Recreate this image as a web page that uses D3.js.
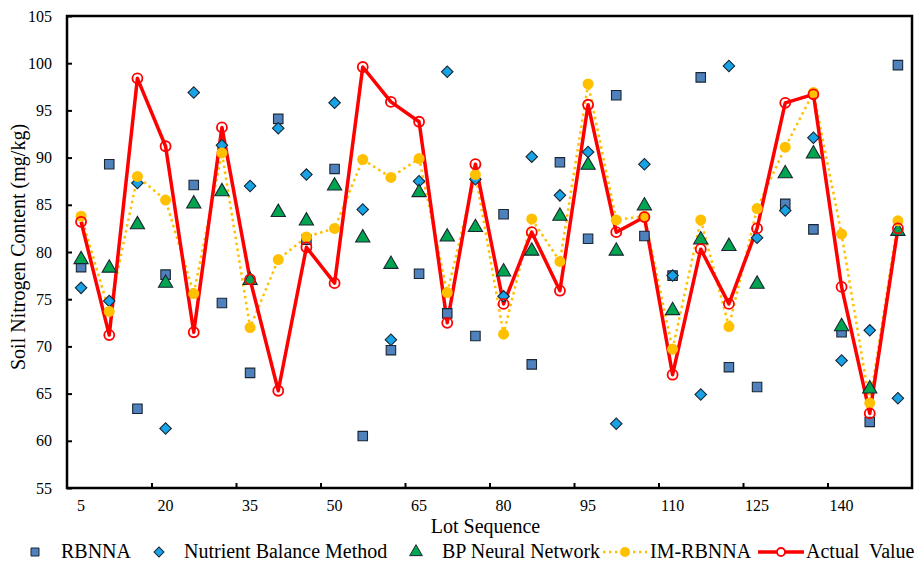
<!DOCTYPE html>
<html>
<head>
<meta charset="utf-8">
<script src="https://cdn.jsdelivr.net/npm/d3@7.9.0/dist/d3.min.js"></script>
<style>
  body { margin: 0; background: #fff; }
  svg, svg text { font-family: "Liberation Serif", "DejaVu Serif", serif; }
  svg { display: block; }
</style>
</head>
<body>
<svg id="chart" width="919" height="562"></svg>
<script>
const lots = [5, 10, 15, 20, 25, 30, 35, 40, 45, 50, 55, 60, 65, 70, 75,
  80, 85, 90, 95, 100, 105, 110, 115, 120, 125, 130, 135, 140, 145, 150];
const labeledLots = [5, 20, 35, 50, 65, 80, 95, 110, 125, 140];
const yTicks = [55, 60, 65, 70, 75, 80, 85, 90, 95, 100, 105];

const rbnna = [78.4, 89.3, 63.4, 77.6, 87.1, 74.6, 67.2, 94.1, 81.3, 88.8, 60.5, 69.6, 77.7, 73.5, 71.1,
  84.0, 68.1, 89.5, 81.4, 96.6, 81.7, 77.5, 98.5, 67.8, 65.7, 85.1, 82.4, 71.5, 62.0, 99.8];
const nutrient = [76.2, 74.8, 87.3, 61.3, 96.9, 91.3, 87.0, 93.1, 88.2, 95.8, 84.5, 70.7, 87.5, 99.1, 87.7,
  75.3, 90.1, 86.0, 90.6, 61.8, 89.3, 77.5, 64.9, 99.7, 81.5, 84.4, 92.1, 68.5, 71.7, 64.5];
const bpNet = [79.2, 78.3, 82.9, 76.7, 85.1, 86.4, 77.0, 84.2, 83.3, 87.0, 81.5, 78.7, 86.3, 81.6, 82.6,
  77.9, 80.1, 83.8, 89.2, 80.1, 84.9, 73.8, 81.3, 80.6, 76.6, 88.3, 90.4, 72.1, 65.5, 82.2];
const imRbnna = [83.8, 73.7, 88.0, 85.5, 75.6, 90.5, 72.0, 79.2, 81.6, 82.5, 89.8, 87.9, 89.9, 75.7, 88.2,
  71.3, 83.5, 79.0, 97.8, 83.4, 83.8, 69.7, 83.4, 72.1, 84.6, 91.1, 96.9, 81.9, 64.0, 83.3];
const actual = [83.2, 71.2, 98.4, 91.2, 71.5, 93.2, 77.1, 65.3, 80.5, 76.7, 99.6, 95.9, 93.8, 72.5, 89.3,
  74.5, 82.1, 75.9, 95.6, 82.1, 83.7, 67.0, 80.3, 74.5, 82.5, 95.8, 96.7, 76.3, 62.9, 82.5];

const plotLeft = 67, plotRight = 912, plotTop = 16, plotBottom = 488;
const serif = "Liberation Serif, DejaVu Serif, serif";
const svg = d3.select("#chart");

let x = d3.scaleBand().domain(lots).range([plotLeft, plotRight]);
let cx = (d) => x(d) + x.bandwidth() / 2;
let y = d3.scaleLinear().domain([55, 105]).range([plotBottom, plotTop]);
// boundary ticks every 3 categories
let xb = d3.scaleLinear().domain([0, lots.length]).range([plotLeft, plotRight]);

// x tick labels
svg.append("g")
  .attr("transform", `translate(0,${plotBottom})`)
  .attr("font-family", serif)
  .call(d3.axisBottom(x).tickValues(labeledLots).tickSize(0).tickPadding(12))
  .attr("font-family", serif)
  .call((g) => g.select(".domain").remove())
  .selectAll("text").attr("font-size", 16).attr("fill", "#000");

// x inner tick marks
svg.append("g")
  .attr("transform", `translate(0,${plotBottom})`)
  .call(d3.axisBottom(xb).tickValues([3, 6, 9, 12, 15, 18, 21, 24, 27]).tickSize(-5).tickFormat(""))
  .call((g) => g.select(".domain").remove())
  .selectAll("line").attr("stroke", "#000").attr("stroke-width", 2);

// y axis
svg.append("g")
  .attr("transform", `translate(${plotLeft},0)`)
  .call(d3.axisLeft(y).tickValues(yTicks).tickSize(-5).tickPadding(15))
  .attr("font-family", serif)
  .call((g) => g.select(".domain").remove())
  .call((g) => g.selectAll("line").attr("stroke", "#000").attr("stroke-width", 2))
  .selectAll("text").attr("font-size", 16).attr("fill", "#000");

// frame
svg.append("rect")
  .attr("x", plotLeft).attr("y", plotTop)
  .attr("width", plotRight - plotLeft).attr("height", plotBottom - plotTop)
  .attr("fill", "none").attr("stroke", "#000").attr("stroke-width", 2.5);

// axis titles
svg.append("text")
  .attr("x", (plotLeft + plotRight) / 2 - 4).attr("y", 533)
  .attr("text-anchor", "middle").attr("font-size", 20).attr("font-family", serif)
  .text("Lot Sequence");
svg.append("text")
  .attr("transform", "translate(25,247) rotate(-90)")
  .attr("text-anchor", "middle").attr("font-size", 20).attr("font-family", serif)
  .text("Soil Nitrogen Content (mg/kg)");

const plot = svg.append("g");

// lines
let line = (vals) => d3.line().x((d, i) => cx(lots[i])).y((d) => y(d))(vals);
plot.append("path").attr("d", line(imRbnna))
  .attr("fill", "none").attr("stroke", "#FFC000").attr("stroke-width", 2.5)
  .attr("stroke-dasharray", "2.5,3.5");
plot.append("path").attr("d", line(actual))
  .attr("fill", "none").attr("stroke", "#FF0000").attr("stroke-width", 3.5)
  .attr("stroke-linejoin", "round");

const squareSym = d3.symbol().type(d3.symbolSquare).size(90);
const diamondSym = d3.symbol().type(d3.symbolSquare).size(66);
const triSym = d3.symbol().type(d3.symbolTriangle).size(88);

function markers(vals, sym, fill, rot) {
  plot.append("g").selectAll("path").data(vals).join("path")
    .attr("d", sym)
    .attr("transform", (d, i) => `translate(${cx(lots[i])},${y(d)}) rotate(${rot})`)
    .attr("fill", fill).attr("stroke", "#1a2633").attr("stroke-width", 1.1);
}
markers(rbnna, squareSym, "#4F81BD", 0);
markers(nutrient, diamondSym, "#18A3E6", 45);
markers(bpNet, triSym, "#00A54F", 0);

plot.append("g").selectAll("circle").data(imRbnna).join("circle")
  .attr("cx", (d, i) => cx(lots[i])).attr("cy", (d) => y(d))
  .attr("r", 5.5).attr("fill", "#FFC000");
plot.append("g").selectAll("circle").data(actual).join("circle")
  .attr("cx", (d, i) => cx(lots[i])).attr("cy", (d) => y(d))
  .attr("r", 5).attr("fill", "none").attr("stroke", "#FF0000").attr("stroke-width", 1.8);

// legend
const legendY = 552;
const legend = svg.append("g").attr("font-size", 20).attr("font-family", serif);
const items = [
  { name: "RBNNA", kind: "square", mx: 35, tx: 61 },
  { name: "Nutrient Balance Method", kind: "diamond", mx: 159, tx: 184 },
  { name: "BP Neural Network", kind: "tri", mx: 416, tx: 442 },
  { name: "IM-RBNNA", kind: "dot", mx: 625, tx: 650 },
  { name: "Actual  Value", kind: "actual", mx: 781, tx: 806 },
];
items.forEach((it) => {
  if (it.kind === "square") {
    legend.append("path").attr("d", d3.symbol().type(d3.symbolSquare).size(64)())
      .attr("transform", `translate(${it.mx},${legendY})`)
      .attr("fill", "#4F81BD").attr("stroke", "#1a2633").attr("stroke-width", 1);
  } else if (it.kind === "diamond") {
    legend.append("path").attr("d", d3.symbol().type(d3.symbolSquare).size(50)())
      .attr("transform", `translate(${it.mx},${legendY}) rotate(45)`)
      .attr("fill", "#18A3E6").attr("stroke", "#1a2633").attr("stroke-width", 1);
  } else if (it.kind === "tri") {
    legend.append("path").attr("d", d3.symbol().type(d3.symbolTriangle).size(70)())
      .attr("transform", `translate(${it.mx},${legendY})`)
      .attr("fill", "#00A54F").attr("stroke", "#1a2633").attr("stroke-width", 1);
  } else if (it.kind === "dot") {
    legend.append("line").attr("x1", it.mx - 22).attr("x2", it.mx + 22)
      .attr("y1", legendY).attr("y2", legendY)
      .attr("stroke", "#FFC000").attr("stroke-width", 2.5).attr("stroke-dasharray", "2.5,3.5");
    legend.append("circle").attr("cx", it.mx).attr("cy", legendY).attr("r", 5).attr("fill", "#FFC000");
  } else {
    legend.append("line").attr("x1", it.mx - 23).attr("x2", it.mx + 23)
      .attr("y1", legendY).attr("y2", legendY)
      .attr("stroke", "#FF0000").attr("stroke-width", 3.5);
    legend.append("circle").attr("cx", it.mx).attr("cy", legendY).attr("r", 4)
      .attr("fill", "#fff").attr("stroke", "#FF0000").attr("stroke-width", 1.8);
  }
  legend.append("text").attr("x", it.tx).attr("y", legendY + 6)
    .attr("xml:space", "preserve").style("white-space", "pre")
    .text(it.name);
});
</script>
</body>
</html>
